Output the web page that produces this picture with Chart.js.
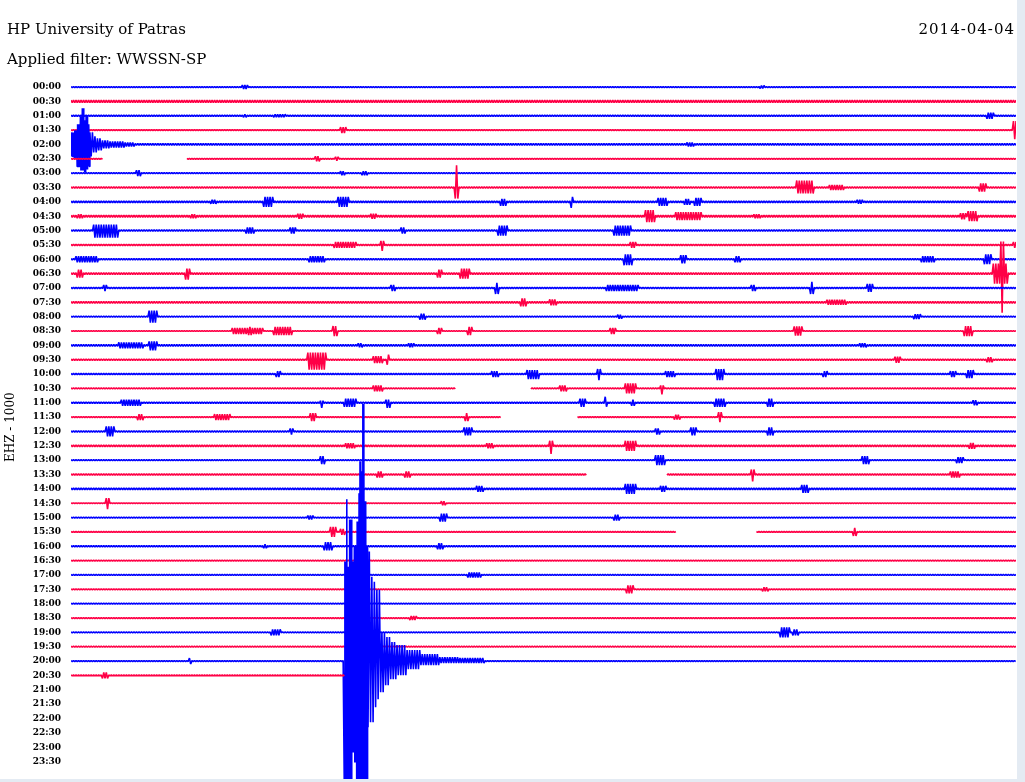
<!DOCTYPE html>
<html>
<head>
<meta charset="utf-8">
<script src="https://cdn.jsdelivr.net/npm/chart.js@4.4.1/dist/chart.umd.min.js"></script>
<style>
  body { margin: 0; background: #e4ebf3; }
  #wrap { position: relative; width: 1017px; height: 779px; background: #fff; overflow: hidden; }
  .hd { position: absolute; font-family: 'DejaVu Serif', serif; font-size: 15px; line-height: 15px; color: #000; white-space: nowrap; z-index: 2; }
  canvas { position: absolute; left: 0; top: 0; }
</style>
</head>
<body>
<div id="wrap">
  <div class="hd" style="left:7px;top:22px">HP University of Patras</div>
  <div class="hd" style="right:2px;top:22px;letter-spacing:1px">2014-04-04</div>
  <div class="hd" style="left:7px;top:52px">Applied filter: WWSSN-SP</div>
  <canvas id="heli" width="1017" height="797"></canvas>
</div>
<script>
// one line of the drum = 30 minutes, amplitudes in counts (1000 counts = one line spacing)
const MINUTES = 30;
const COUNTS_PER_ROW = 1000;
const STEP = 0.04;
const FINE_STEP = 0.015;

const rowLabels = ['00:00','00:30','01:00','01:30','02:00','02:30','03:00','03:30','04:00','04:30',
  '05:00','05:30','06:00','06:30','07:00','07:30','08:00','08:30','09:00','09:30',
  '10:00','10:30','11:00','11:30','12:00','12:30','13:00','13:30','14:00','14:30',
  '15:00','15:30','16:00','16:30','17:00','17:30','18:00','18:30','19:00','19:30',
  '20:00','20:30','21:00','21:30','22:00','22:30','23:00','23:30'];

// background noise level of each recorded line (counts)
const noise = [35,80,40,25,60,30,45,55,60,70, 55,50,50,65,45,60,45,30,55,45,
  45,45,55,40,45,60,40,45,60,25, 40,30,45,25,40,30,25,35,30,40, 30,30];

// data gaps [from, to] in minutes of the line
const gaps = {5: [[1.02, 3.68]], 21: [[12.22, 14.6]], 23: [[13.65, 16.06]], 27: [[16.38, 18.89]], 31: [[19.21, 21.75]]};
// last recorded minute of a line
const rowEnd = {41: 8.70};

// local bursts: [minute, up, down, duration]
const bursts = {
  0: [[5.52,140,140,0.2],[21.94,105,105,0.15]],
  2: [[5.52,105,105,0.15],[6.63,105,105,0.4],[29.17,210,210,0.25]],
  3: [[8.63,210,210,0.2],[29.95,630,630,0.1]],
  4: [[19.65,140,140,0.25]],
  5: [[7.81,175,175,0.15],[8.44,140,140,0.15]],
  6: [[2.13,210,210,0.15],[8.63,140,140,0.15],[9.33,140,140,0.2]],
  7: [[12.25,1540,770,0.1],[23.30,490,420,0.55],[24.30,175,175,0.5],[28.95,280,280,0.25]],
  8: [[4.51,140,140,0.2],[6.25,350,350,0.3],[8.63,350,350,0.35],[13.71,210,280,0.2],[15.90,350,420,0.1],[18.79,280,280,0.3],[19.56,210,210,0.2],[19.90,280,280,0.2],[25.05,140,140,0.2]],
  9: [[0.29,140,140,0.2],[3.87,140,140,0.2],[7.27,175,175,0.2],[9.59,175,175,0.2],[18.38,420,420,0.3],[19.6,280,280,0.8],[21.78,140,140,0.2],[28.32,210,210,0.2],[28.63,350,350,0.3]],
  10: [[1.1,420,490,0.8],[5.68,210,210,0.25],[7.05,210,210,0.2],[10.54,210,210,0.15],[13.71,350,350,0.3],[17.5,350,350,0.55]],
  11: [[8.7,210,210,0.7],[9.87,280,420,0.1],[17.84,210,210,0.2],[29.95,210,210,0.1]],
  12: [[0.5,210,210,0.7],[7.8,210,210,0.5],[17.68,350,420,0.3],[19.43,280,280,0.2],[21.17,210,210,0.2],[27.2,210,210,0.45],[29.11,350,350,0.25]],
  13: [[0.29,280,280,0.2],[3.71,350,420,0.15],[11.71,280,280,0.15],[12.51,350,350,0.3],[29.5,700,700,0.45],[29.56,2240,2730,0.1]],
  14: [[1.08,210,210,0.15],[10.22,210,210,0.15],[13.52,350,420,0.15],[17.5,210,210,1.0],[21.65,210,210,0.15],[23.52,420,420,0.1],[25.37,280,280,0.2]],
  15: [[14.35,280,280,0.2],[15.30,210,210,0.2],[24.3,175,175,0.6]],
  16: [[2.6,420,420,0.3],[11.17,210,210,0.2],[17.43,140,140,0.15],[26.86,175,175,0.2]],
  17: [[5.6,210,210,1.0],[5.68,280,280,0.15],[6.73,280,280,0.6],[8.38,350,350,0.15],[11.71,210,210,0.15],[12.67,280,280,0.15],[17.2,210,210,0.2],[23.08,315,315,0.3],[28.48,350,350,0.25]],
  18: [[1.9,210,210,0.8],[2.6,280,350,0.3],[9.17,140,140,0.15],[10.8,140,140,0.2],[25.14,140,140,0.2]],
  19: [[7.8,490,700,0.6],[9.75,245,245,0.3],[10.06,350,350,0.1],[26.25,210,210,0.2],[29.17,175,175,0.2]],
  20: [[6.57,210,210,0.15],[13.46,210,210,0.2],[14.67,280,350,0.4],[16.76,350,420,0.1],[19.02,210,210,0.3],[20.6,350,420,0.3],[23.94,210,210,0.15],[28.00,210,210,0.2],[28.54,280,280,0.2]],
  21: [[9.75,210,210,0.3],[15.62,210,210,0.2],[17.75,350,350,0.35],[18.76,210,420,0.1]],
  22: [[1.9,210,210,0.6],[7.97,140,350,0.1],[8.86,280,280,0.4],[10.06,210,350,0.15],[16.25,280,280,0.2],[16.98,420,280,0.1],[17.84,210,210,0.15],[20.6,280,280,0.35],[22.19,280,280,0.2],[28.7,175,175,0.15]],
  23: [[2.19,210,210,0.2],[4.8,210,210,0.5],[7.68,280,280,0.2],[12.57,280,280,0.1],[19.24,175,175,0.2],[20.60,350,350,0.1]],
  24: [[1.24,350,350,0.3],[7.0,210,210,0.1],[12.6,280,280,0.3],[18.63,210,210,0.15],[19.75,280,280,0.2],[22.19,280,280,0.2]],
  25: [[8.86,175,175,0.3],[13.30,175,175,0.2],[15.24,350,560,0.1],[17.75,350,350,0.35],[28.6,210,210,0.2]],
  26: [[7.97,280,280,0.15],[18.70,350,350,0.3],[25.21,280,280,0.25],[28.22,210,210,0.2]],
  27: [[9.81,210,210,0.2],[10.67,210,210,0.2],[21.65,350,490,0.1],[28.06,210,210,0.3]],
  28: [[12.98,210,210,0.2],[17.75,350,350,0.35],[18.79,210,210,0.2],[23.30,280,280,0.25]],
  29: [[1.17,350,420,0.1],[11.81,140,140,0.15]],
  30: [[7.59,140,140,0.2],[11.81,280,280,0.25],[17.33,210,210,0.2]],
  31: [[8.32,350,350,0.2],[8.63,210,210,0.15],[24.89,280,280,0.1]],
  32: [[6.16,140,140,0.15],[8.16,280,280,0.25],[11.71,210,210,0.2]],
  34: [[12.8,175,175,0.4]],
  35: [[17.75,280,280,0.25],[22.03,140,140,0.2]],
  37: [[10.86,140,140,0.2]],
  38: [[6.5,210,210,0.35],[22.67,350,350,0.3],[23.0,210,210,0.2]],
  40: [[3.78,210,210,0.1]],
  41: [[1.08,210,210,0.2]]
};

// earthquake envelopes: [minute, up, down], held until the next sample
const quake0200 = [[0.00,840,840],[0.10,980,910],[0.19,1400,1540],[0.29,1960,1820],[0.35,2520,1820],
  [0.41,1680,1960],[0.48,2030,1750],[0.54,1400,1540],[0.60,840,840],[0.70,560,560],[0.83,420,420],
  [0.98,280,280],[1.24,210,210],[1.71,140,140],[2.03,0,0]];
const quake2000 = [[8.68,6930,9800],[8.73,11270,9800],[8.78,6580,9100],[8.84,9870,9800],[8.91,6930,6370],
  [8.99,7980,7070],[9.07,9730,9100],[9.12,11690,9800],[9.17,13930,9800],[9.22,13230,9800],[9.25,17920,9800],
  [9.30,11130,9800],[9.36,7980,9100],[9.42,7630,4620],[9.49,5880,4270],[9.60,5530,3220],[9.70,4970,2660],
  [9.81,2030,2170],[9.97,1680,1680],[10.13,1330,1260],[10.34,1120,980],[10.66,770,560],[11.08,490,280],
  [11.71,280,140],[12.35,210,140],[13.14,0,0]];
const events = {4: quake0200, 40: quake2000};
// strong-motion part of each quake, traced more densely
const denseSpans = {4: [0.0, 0.6], 40: [8.68, 9.42]};

const recordedRows = noise.length;

function envAt(env, m) {
  let v = null;
  for (const s of env) { if (s[0] <= m + 1e-6) v = s; else break; }
  return v;
}

function buildRow(r) {
  const pts = [];
  const end = rowEnd[r] ?? MINUTES;
  const rowGaps = gaps[r] || [];
  const rowBursts = bursts[r] || [];
  const span = denseSpans[r];
  let k = 0;
  for (let t = 0; t <= MINUTES + 1e-9; k++) {
    const m = +t.toFixed(4);
    t += span && m >= span[0] && m < span[1] ? FINE_STEP : STEP;
    if (m > end || rowGaps.some(g => m > g[0] && m < g[1])) { pts.push({x: m, y: null}); continue; }
    let up = noise[r], dn = noise[r];
    for (const [bm, bu, bd, dur] of rowBursts) {
      if (Math.abs(m - bm) <= dur / 2 + 1e-6) { up = Math.max(up, bu); dn = Math.max(dn, bd); }
    }
    if (events[r]) {
      const ev = envAt(events[r], m);
      if (ev) { up = Math.max(up, ev[1]); dn = Math.max(dn, ev[2]); }
    }
    pts.push({x: m, y: k % 2 ? r + dn / COUNTS_PER_ROW : r - up / COUNTS_PER_ROW});
  }
  return pts;
}

// later lines are drawn on top, so push them first
const datasets = [];
for (let r = recordedRows - 1; r >= 0; r--) {
  datasets.push({
    label: rowLabels[r],
    data: buildRow(r),
    borderColor: r % 2 ? 'rgb(255,0,70)' : 'rgb(0,0,255)',
    borderWidth: 1.6,
    borderJoinStyle: 'bevel',
    pointRadius: 0,
    tension: 0,
    spanGaps: false
  });
}

new Chart(document.getElementById('heli'), {
  type: 'line',
  data: { datasets: datasets },
  options: {
    responsive: false,
    animation: false,
    parsing: false,
    events: [],
    devicePixelRatio: 1,
    layout: { padding: { top: 72.7, right: 1, bottom: 0, left: 0 } },
    plugins: { legend: { display: false }, tooltip: { enabled: false } },
    scales: {
      x: { type: 'linear', min: 0, max: MINUTES, display: false, ticks: { display: false } },
      y: {
        type: 'linear',
        reverse: true,
        min: -1,
        max: 48.4,
        afterBuildTicks: scale => { scale.ticks = rowLabels.map((l, i) => ({ value: i })); },
        afterFit: scale => { scale.width = 71; },
        grid: { display: false, drawTicks: false },
        border: { display: false },
        ticks: {
          autoSkip: false,
          padding: 10,
          color: '#000',
          font: { family: 'DejaVu Serif', size: 9, weight: 'bold' },
          callback: v => rowLabels[v]
        },
        title: {
          display: true,
          text: 'EHZ - 1000',
          color: '#000',
          font: { family: 'DejaVu Serif', size: 12 },
          padding: { top: 4, bottom: 0 }
        }
      }
    }
  }
});
</script>
</body>
</html>
